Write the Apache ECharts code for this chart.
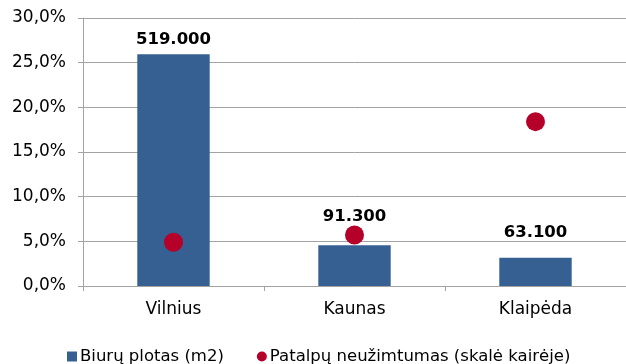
<!DOCTYPE html>
<html>
<head>
<meta charset="utf-8">
<script src="https://cdn.jsdelivr.net/npm/echarts@6/dist/echarts.min.js"></script>
<style>
  html, body { margin: 0; padding: 0; background: #fff; }
  #chart { width: 626px; height: 364px; }
</style>
</head>
<body>
<div id="chart"></div>
<script>
// Cities and their office stock / vacancy
const cities = ['Vilnius', 'Kaunas', 'Klaipėda'];
const officeArea = [519000, 91300, 63100];      // m2, drawn on the hidden right scale
const vacancyRate = [4.9, 5.7, 18.4];           // %, drawn on the left scale
const seriesNames = ['Biurų plotas (m2)', 'Patalpų neužimtumas (skalė kairėje)'];

// Vertical gap between each bar top and its value label (px)
const labelLift = [6, 20, 17];

const FONT = 'DejaVu Sans';
const GRID = '#a3a3a3';

function thousands(v) {
  return String(v).replace(/\B(?=(\d{3})+(?!\d))/g, '.');
}

const chart = echarts.init(document.getElementById('chart'), null, { renderer: 'canvas' });

chart.setOption({
  animation: false,
  backgroundColor: '#ffffff',
  textStyle: { fontFamily: FONT },
  grid: { left: 83, top: 18, bottom: 78, width: 546 },
  legend: {
    left: 62,
    top: 343,
    itemWidth: 10,
    itemHeight: 10,
    itemGap: 33,
    textStyle: { fontFamily: FONT, fontSize: 16.5, color: '#000', padding: [0, 0, 0, -2] },
    data: [
      { name: seriesNames[0], icon: 'rect' },
      { name: seriesNames[1], icon: 'circle' }
    ]
  },
  xAxis: {
    type: 'category',
    data: cities,
    boundaryGap: true,
    axisLine: { lineStyle: { color: GRID, width: 1 } },
    axisTick: { show: true, length: 5, lineStyle: { color: GRID } },
    axisLabel: { color: '#000', fontFamily: FONT, fontSize: 17, margin: 15 }
  },
  yAxis: [
    {
      type: 'value',
      min: 0,
      max: 30,
      interval: 5,
      axisLine: { show: true, lineStyle: { color: GRID, width: 1 } },
      axisTick: { show: true, length: 5, lineStyle: { color: GRID } },
      splitLine: { lineStyle: { color: GRID, width: 1 } },
      axisLabel: {
        color: '#000', fontFamily: FONT, fontSize: 17, margin: 17,
        padding: [4, 0, 0, 0],
        formatter: v => v.toFixed(1).replace('.', ',') + '%'
      }
    },
    {
      type: 'value',
      min: 0,
      max: 600000,
      show: false,
      splitLine: { show: false }
    }
  ],
  series: [
    {
      name: seriesNames[0],
      type: 'bar',
      yAxisIndex: 1,
      barWidth: '40%',
      itemStyle: { color: '#366092' },
      label: {
        show: true,
        position: 'top',
        color: '#000',
        fontFamily: FONT,
        fontSize: 16.5,
        fontWeight: 'bold',
        formatter: p => thousands(p.value)
      },
      data: officeArea.map((v, i) => ({ value: v, label: { distance: labelLift[i] } })),
      z: 2
    },
    {
      name: seriesNames[1],
      type: 'scatter',
      yAxisIndex: 0,
      symbol: 'circle',
      symbolSize: 19,
      itemStyle: { color: '#b5002a', opacity: 1 },
      data: vacancyRate,
      z: 3
    }
  ]
});
</script>
</body>
</html>
